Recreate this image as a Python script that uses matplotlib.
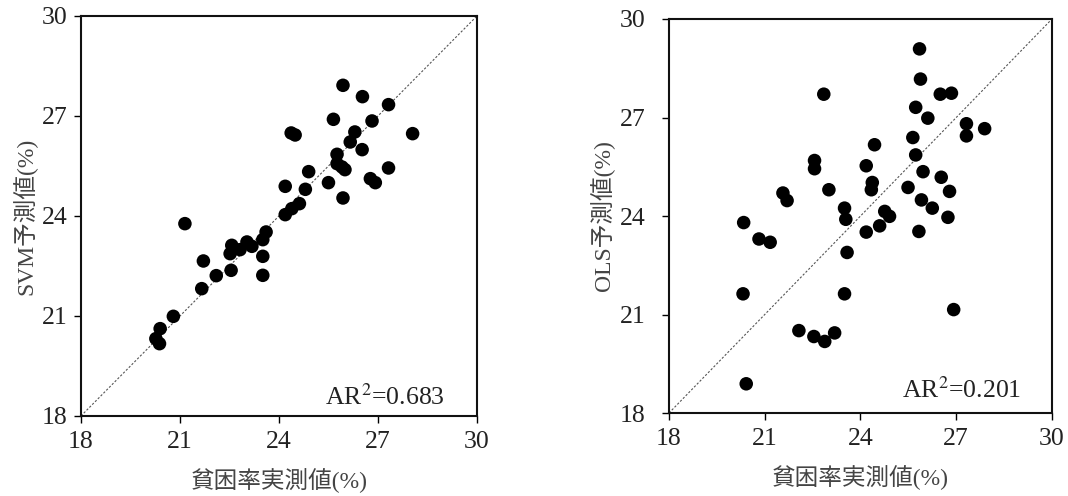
import numpy as np
import matplotlib
matplotlib.use('Agg')
from matplotlib import pyplot as plt

# 字体: 数字用Times风格, 日文用Noto
plt.rcParams['font.family'] = ['Liberation Serif', 'Noto Sans CJK JP']
plt.rcParams['mathtext.fontset'] = 'stix'

# SVM 预测 (左图)
svm_obs = [25.94, 26.53, 27.32, 25.65, 26.82, 24.37, 24.49, 28.05, 26.30, 26.16,
           26.52, 25.76, 25.76, 25.91, 26.00, 27.32, 24.90, 26.77, 26.92, 25.50,
           25.94, 24.19, 24.80, 24.62, 24.39, 24.19, 21.15, 23.61, 23.51, 23.03,
           22.57, 23.18, 22.82, 22.52, 23.51, 21.71, 22.10, 22.55, 23.51, 21.66,
           20.80, 20.40, 20.27, 20.38]
svm_pred = [27.92, 27.58, 27.34, 26.90, 26.85, 26.49, 26.43, 26.47, 26.52, 26.22,
            25.99, 25.85, 25.57, 25.47, 25.39, 25.44, 25.33, 25.12, 25.00, 25.00,
            24.54, 24.89, 24.80, 24.37, 24.22, 24.04, 23.77, 23.52, 23.29, 23.22,
            23.12, 23.09, 22.99, 22.87, 22.79, 22.65, 22.21, 22.37, 22.22, 21.82,
            20.99, 20.62, 20.32, 20.17]

# OLS 预测 (右图)
ols_obs = [25.85, 25.88, 22.85, 26.50, 26.85, 25.73, 26.11, 27.32, 27.32, 27.89,
           25.64, 24.44, 25.73, 22.56, 22.56, 24.18, 25.96, 26.53, 24.37, 24.34,
           25.49, 23.01, 26.79, 21.57, 21.70, 25.91, 26.25, 23.50, 23.54, 24.76,
           24.91, 26.74, 24.60, 24.18, 25.83, 20.34, 20.82, 21.17, 23.58, 20.32,
           23.50, 26.92, 22.07, 22.54, 22.88, 23.19, 20.42]
ols_pred = [29.09, 28.17, 27.71, 27.71, 27.74, 27.31, 26.98, 26.81, 26.44, 26.66,
            26.39, 26.17, 25.86, 25.69, 25.44, 25.53, 25.35, 25.18, 25.02, 24.80,
            24.87, 24.80, 24.75, 24.70, 24.47, 24.49, 24.24, 24.24, 23.90, 24.14,
            23.99, 23.96, 23.70, 23.51, 23.53, 23.80, 23.30, 23.20, 22.89, 21.63,
            21.63, 21.15, 20.51, 20.33, 20.18, 20.44, 18.89]

ticks = [18, 21, 24, 27, 30]
xlabel = '貧困率実測値(%)'
panels = [
    ([0.0758, 0.1613, 0.3708, 0.8065], svm_obs, svm_pred, 'SVM予測値(%)', 'AR$^{2}$=0.683', 4.5, (0.919, 0.027)),
    ([0.6264, 0.1673, 0.3586, 0.7944], ols_obs, ols_pred, 'OLS予測値(%)', 'AR$^{2}$=0.201', 12, (0.921, 0.038)),
]

fig = plt.figure(figsize=(10.68, 4.96), dpi=100)

for rect, xs, ys, ylab, ar, ypad, arpos in panels:
    ax = fig.add_axes(rect)
    ax.plot([18, 30], [18, 30], color='#555555', lw=0.8, ls=(0, (2, 1.6)), zorder=1)
    ax.scatter(xs, ys, s=95, color='black', edgecolors='none', zorder=2)
    ax.set_xlim(18, 30)
    ax.set_ylim(18, 30)
    ax.set_xticks(ticks)
    ax.set_yticks(ticks)
    for sp in ax.spines.values():
        sp.set_linewidth(1.5)
        sp.set_color('#111111')
    ax.tick_params(axis='both', direction='out', length=5, width=1,
                   labelsize=18.5, labelcolor='#222222', top=False, right=False)
    ax.tick_params(axis='x', pad=6)
    ax.tick_params(axis='y', pad=ypad)
    ax.set_xlabel(xlabel, fontsize=17, color='#444444', labelpad=11)
    ax.set_ylabel(ylab, fontsize=17, color='#444444', labelpad=3)
    ax.text(arpos[0], arpos[1], ar, transform=ax.transAxes, ha='right', va='baseline',
            fontsize=18.5, color='#222222')

fig.savefig('out.png', dpi=100)
